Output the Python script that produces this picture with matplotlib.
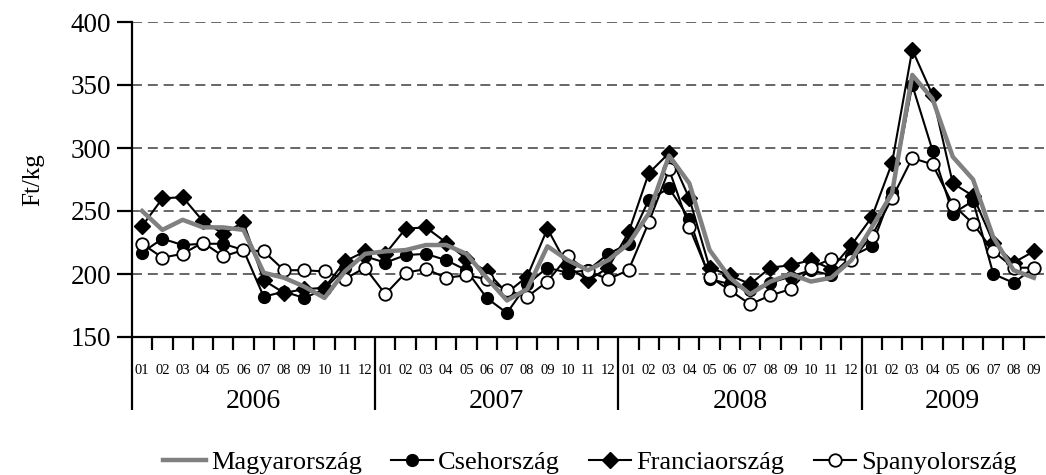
import matplotlib.pyplot as plt
import matplotlib.transforms as mtransforms
import numpy as np

plt.rcParams['font.family'] = ['Liberation Serif', 'DejaVu Serif']

# monthly prices 2006-01 .. 2009-09 (Ft/kg)
years = ['2006', '2007', '2008', '2009']
months_per_year = [12, 12, 12, 9]
month_labels = ['%02d' % m for n in months_per_year for m in range(1, n + 1)]

magyar = [250, 235, 243, 237, 237, 235, 201, 197, 190, 181, 202, 216,
          218, 219, 223, 223, 216, 197, 179, 188, 222, 211, 203, 211,
          224, 248, 294, 272, 219, 197, 184, 194, 200, 194, 197, 211,
          237, 264, 358, 339, 293, 275, 229, 203, 197]
cseh = [217, 228, 223, 224, 224, 219, 182, 186, 181, 188, 205, 214,
        209, 215, 216, 211, 203, 181, 169, 192, 205, 201, 203, 216,
        224, 259, 268, 244, 196, 192, 187, 193, 198, 203, 199, 214,
        222, 265, 350, 298, 248, 258, 200, 193, 205]
francia = [238, 260, 261, 242, 232, 241, 195, 185, 188, 189, 210, 218,
           216, 236, 237, 225, 212, 202, 185, 198, 236, 206, 195, 205,
           233, 280, 296, 260, 205, 199, 192, 205, 207, 211, 204, 223,
           245, 288, 378, 342, 272, 262, 225, 209, 218]
spanyol = [224, 213, 216, 225, 214, 219, 218, 203, 203, 202, 196, 205,
           184, 201, 204, 197, 199, 196, 187, 182, 194, 214, 202, 196,
           203, 241, 283, 237, 198, 187, 176, 183, 188, 205, 212, 211,
           230, 260, 292, 287, 255, 240, 218, 205, 205]

x = np.arange(len(month_labels))

fig = plt.figure(figsize=(10.46, 4.75), dpi=100)
ax = fig.add_axes([132 / 1046, 1 - 337 / 475, 912 / 1046, 315 / 475])

l_c, = ax.plot(x, cseh, color='black', lw=1.5, marker='o', ms=8.5,
               mfc='black', mec='black', zorder=3, label='Csehország')
l_f, = ax.plot(x, francia, color='black', lw=1.5, marker='D', ms=8.5,
               mfc='black', mec='black', zorder=3, label='Franciaország')
l_s, = ax.plot(x, spanyol, color='black', lw=1.5, marker='o', ms=9,
               mfc='white', mec='black', mew=1.3, zorder=4, label='Spanyolország')
l_m, = ax.plot(x, magyar, color='#808080', lw=3.2, zorder=5, label='Magyarország')

ax.set_xlim(-0.5, len(x) - 0.5)
ax.set_ylim(150, 400)
ax.set_yticks(np.arange(150, 401, 50))
ax.yaxis.grid(True, linestyle=(0, (6, 3.5)), color='#4d4d4d', lw=1.2)
ax.set_axisbelow(True)

for s in ['top', 'right']:
    ax.spines[s].set_visible(False)
for s in ['left', 'bottom']:
    ax.spines[s].set_linewidth(1.6)

ax.tick_params(axis='y', direction='out', length=11, width=1.6, labelsize=19.5, pad=4)

# month labels centred, small ticks on month borders
ax.set_xticks(x)
ax.set_xticklabels(month_labels, fontsize=10.5)
ax.tick_params(axis='x', which='major', length=0, pad=19.5)
year_ends = np.cumsum(months_per_year)[:-1] - 0.5
minor = [b for b in np.arange(0.5, len(x) - 1, 1.0) if b not in year_ends]
ax.set_xticks(minor, minor=True)
ax.tick_params(axis='x', which='minor', direction='out', length=9, width=1.6)

trans = mtransforms.blended_transform_factory(ax.transData, ax.transAxes)
for b in [-0.5] + list(year_ends):
    ax.plot([b, b], [0, -0.232], transform=trans, color='black', lw=1.6,
            clip_on=False, solid_capstyle='butt')

start = 0
for yr, n in zip(years, months_per_year):
    ax.text(start + (n - 1) / 2, -0.205, yr, transform=trans, ha='center',
            va='center', fontsize=20)
    start += n

fig.text(33 / 1046, 1 - 180 / 475, 'Ft/kg', rotation=90, ha='center',
         va='center', fontsize=18)

fig.legend(handles=[l_m, l_c, l_f, l_s], loc='center', ncol=4,
           bbox_to_anchor=(590 / 1046, 1 - 462 / 475), frameon=False,
           fontsize=19, handlelength=1.6, handletextpad=0.2, columnspacing=1.1)

fig.savefig('out.png', dpi=100)
